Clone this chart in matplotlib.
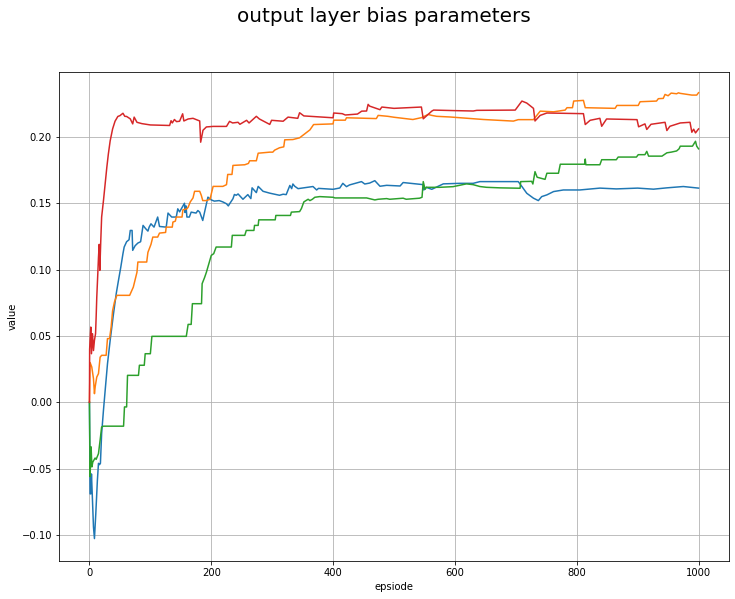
import numpy as np
import matplotlib.pyplot as plt

# episode / value pairs
ep_blue = [0, 1, 2.2, 3.3, 4.4, 6.6, 8.2, 10.4, 13, 14.8, 16.5, 18, 20, 23, 25.8, 29.6,
           34, 39.5, 44, 47.7, 51.5, 55, 57, 61, 65, 67, 70, 71, 75, 79.5, 84, 88,
           92, 96, 98, 101, 106, 112, 115, 126, 129, 135, 142.5, 145, 148, 156, 157,
           158.5, 160, 164, 167, 175, 178, 181, 186, 189, 194.5, 200, 205, 213, 219,
           225, 228, 230, 235.6, 238, 241, 244, 252, 260, 265, 267, 274, 277, 285,
           296, 312, 318, 323, 329, 332, 334, 337, 342.5, 367, 373, 376, 400, 411,
           416, 422, 427, 446.6, 452, 460, 468.5, 477, 488, 510, 515, 542, 548, 549,
           553, 562, 581, 608, 630, 641, 674, 704, 710, 718, 729, 737, 742.5, 751,
           762, 778, 805, 838, 865, 900, 926, 948, 975, 1000]
val_blue = [0.0, -0.069, -0.069, -0.054, -0.067, -0.094, -0.1027, -0.084, -0.059, -0.046,
            -0.047, -0.046, -0.0236, -0.006, 0.009, 0.029,
            0.0467, 0.0668, 0.082, 0.092, 0.102, 0.112, 0.117, 0.121, 0.1225, 0.1295, 0.1295, 0.1145, 0.118, 0.12, 0.121, 0.1333,
            0.131, 0.129, 0.132, 0.1345, 0.132, 0.1396, 0.1325, 0.132, 0.1426, 0.1396, 0.1396, 0.1458, 0.1435, 0.150, 0.143,
            0.148, 0.1396, 0.1396, 0.1433, 0.1426, 0.1445, 0.1433, 0.137, 0.1433, 0.1546, 0.1525, 0.1516, 0.152, 0.151,
            0.1496, 0.148, 0.1495, 0.1534, 0.1566, 0.156, 0.157, 0.153, 0.1565, 0.1535, 0.1616, 0.158, 0.1627, 0.159,
            0.1576, 0.156, 0.1568, 0.1565, 0.1634, 0.161, 0.1645, 0.1628, 0.161, 0.1626, 0.160, 0.1612, 0.1605, 0.1615,
            0.165, 0.1625, 0.1638, 0.1663, 0.1645, 0.1652, 0.167, 0.1628, 0.1635, 0.163, 0.1656, 0.1643, 0.164, 0.160,
            0.162, 0.1605, 0.1646, 0.165, 0.165, 0.1663, 0.1663, 0.1663, 0.1626, 0.1575, 0.1538, 0.152, 0.155, 0.1563,
            0.1588, 0.160, 0.160, 0.1614, 0.1608, 0.1614, 0.1606, 0.1616, 0.1626, 0.1614]

ep_orange = [0, 1, 3.8, 6.6, 8.2, 9.5, 12, 14.8, 17.5, 20, 27.4, 29.6, 33, 35.6, 38, 41,
             45, 52, 66, 72, 78, 79.5, 94, 96, 101, 104, 112, 115, 125, 126, 136, 137,
             141, 142.5, 152, 153.4, 160, 162, 165.5, 170, 172.6, 181, 183.6, 186, 192,
             198, 200, 203, 219, 225, 227, 234, 235.6, 255, 261, 263, 274, 277, 296,
             301, 304, 312, 319, 320.6, 334, 345, 353.5, 362, 368, 400, 401, 420, 422,
             471, 474, 490, 500, 531, 545, 556, 562, 570, 592, 647, 696, 704, 729, 740,
             762, 781, 784, 793, 795, 811, 814, 863, 866, 901, 904, 931, 934, 942, 945,
             950, 955, 964, 967, 970, 989, 997, 1000]
val_orange = [0.0, 0.03, 0.0266, 0.0178, 0.0065, 0.012, 0.019, 0.0216, 0.034, 0.0354, 0.0354, 0.048, 0.048, 0.0567, 0.069, 0.0755,
              0.0806, 0.0806, 0.0806, 0.0868, 0.098, 0.1057, 0.1057, 0.113, 0.119, 0.1245, 0.1245, 0.1275, 0.128, 0.132, 0.132, 0.1358,
              0.1365, 0.1396, 0.1396, 0.145, 0.1458, 0.147, 0.151, 0.154, 0.159, 0.159, 0.156, 0.152, 0.152,
              0.153, 0.157, 0.1627, 0.1627, 0.164, 0.1717, 0.1717, 0.1785, 0.179, 0.18, 0.182, 0.182, 0.1877, 0.1885,
              0.1885, 0.190, 0.1918, 0.1925, 0.1978, 0.198, 0.1993, 0.2023, 0.2053, 0.2093, 0.2098, 0.2126, 0.2126, 0.2144,
              0.2138, 0.2162, 0.2155, 0.2148, 0.2131, 0.2145, 0.2169, 0.2162, 0.2155, 0.215, 0.2131, 0.2119, 0.213, 0.213, 0.2194,
              0.2189, 0.2202, 0.222, 0.222, 0.227, 0.2275, 0.222, 0.2215, 0.2237, 0.2237, 0.2265, 0.227, 0.2288, 0.229, 0.232,
              0.231, 0.233, 0.2325, 0.2332, 0.2328, 0.2315, 0.2315, 0.2333]

ep_green = [0, 1, 2.7, 4, 5.5, 9.3, 11, 14.8, 17.5, 20, 23, 56, 57.5, 61, 62.5, 80.5,
            82, 90, 91.5, 100, 102.5, 159, 162, 167, 169, 184, 185, 189, 192, 194.5,
            200, 204, 208, 233, 234.5, 255, 257.5, 270, 271, 277, 278, 305, 306, 330,
            331.5, 345, 348, 352, 359, 362, 366, 370, 378, 400, 403, 455, 468.5, 474,
            488, 493, 515, 520, 542, 546, 548, 551, 553, 575, 597, 619, 630, 641, 652,
            674, 707, 708, 726, 728, 731.5, 735, 748, 751, 770, 773, 813, 814, 815,
            817, 838, 841, 865, 868, 898, 901, 912, 915, 918, 940, 948, 955, 964, 968,
            970, 990, 995, 997, 1000]
val_green = [0.0, -0.056, -0.0336, -0.0487, -0.045, -0.042, -0.043, -0.0387, -0.0286, -0.0186, -0.018, -0.018, -0.0035, -0.0035, 0.0203, 0.0203,
             0.0279, 0.0279, 0.0366, 0.0366, 0.0497, 0.0497, 0.0587, 0.0587, 0.0743, 0.0743, 0.0894, 0.094, 0.098, 0.102,
             0.1107, 0.112, 0.117, 0.117, 0.1258, 0.1258, 0.1295, 0.1295, 0.1333, 0.1333, 0.1375, 0.1375, 0.1408, 0.1408,
             0.1433, 0.1437, 0.146, 0.151, 0.153, 0.152, 0.153, 0.1545, 0.155, 0.1545, 0.154, 0.154, 0.1525, 0.153,
             0.1535, 0.153, 0.1538, 0.153, 0.1538, 0.1545, 0.1663, 0.1605, 0.162, 0.162, 0.1625, 0.1646, 0.164, 0.1626, 0.162,
             0.1616, 0.1613, 0.1663, 0.1665, 0.1645, 0.1738, 0.1696, 0.168, 0.1726, 0.1726, 0.1794, 0.1794, 0.1833, 0.179,
             0.179, 0.179, 0.1828, 0.1828, 0.1848, 0.1848, 0.1866, 0.1866, 0.1891, 0.1855, 0.1855, 0.188, 0.1885, 0.1894, 0.191,
             0.193, 0.193, 0.1967, 0.193, 0.191]

ep_red = [0, 0.3, 1, 2.2, 3.3, 5, 6.6, 8.2, 10, 11, 12, 13.7, 14.8, 16, 17, 18.6,
          20, 23, 25.8, 28.5, 31, 34, 38, 42, 46.6, 50, 55, 58, 61, 67, 71, 73.4,
          78, 86, 100, 131.6, 134, 136, 139.5, 143, 148, 153, 155, 162, 170, 181,
          182.6, 186.4, 192, 203, 225, 230, 235, 244, 247, 258, 262, 274, 279, 296,
          299, 318, 326, 342, 345, 352, 400, 401, 415, 420, 440, 447, 455, 457.5,
          460, 477, 480, 500, 545, 548, 562, 565, 600, 630, 636, 699, 710, 718, 729,
          731.5, 740, 751, 811, 814, 822, 838, 841, 849, 899, 901.6, 912, 915, 922,
          945, 948, 953, 970, 986, 989, 992, 995, 1000]
val_red = [0.0, 0.04, 0.0467, 0.0567, 0.0366, 0.0517, 0.039, 0.0467, 0.0517, 0.0643, 0.079, 0.0969, 0.109, 0.119, 0.0994, 0.122,
           0.1396, 0.152, 0.1647, 0.177, 0.187, 0.197, 0.206, 0.2118, 0.2154, 0.216, 0.2178, 0.2155, 0.2154, 0.2136, 0.2098, 0.2149,
           0.211, 0.21, 0.209, 0.2086, 0.2122, 0.2105, 0.2131, 0.2115, 0.2118, 0.2174, 0.212, 0.2135, 0.214, 0.212,
           0.196, 0.205, 0.2075, 0.2079, 0.2079, 0.2117, 0.2105, 0.211, 0.2095, 0.2125, 0.2105, 0.2155, 0.2135, 0.2094,
           0.2125, 0.2118, 0.2149, 0.214, 0.2182, 0.2158, 0.2144, 0.218, 0.2175, 0.2165, 0.2172, 0.2194, 0.2195, 0.2245,
           0.2232, 0.2205, 0.2225, 0.2215, 0.2225, 0.2136, 0.2194, 0.2202, 0.2198, 0.2195, 0.220, 0.2202, 0.227, 0.2255, 0.2215,
           0.212, 0.2162, 0.218, 0.2175, 0.2093, 0.2125, 0.214, 0.208, 0.2135, 0.213, 0.2076, 0.2098, 0.2056, 0.2095,
           0.211, 0.2048, 0.208, 0.2105, 0.211, 0.2035, 0.2058, 0.203, 0.206]

fig = plt.figure(figsize=(735 / 72, 599 / 72), dpi=72)
ax = fig.add_axes([59 / 735, 1 - 561 / 599, 670 / 735, 489 / 599])

ax.plot(ep_blue, val_blue)
ax.plot(ep_orange, val_orange)
ax.plot(ep_green, val_green)
ax.plot(ep_red, val_red)

ax.set_xlim(-50, 1050)
ax.set_ylim(-0.1196, 0.2489)
ax.set_xlabel("epsiode")
ax.set_ylabel("value")
ax.grid(True)
fig.suptitle("output layer bias parameters", fontsize=20, x=384 / 735, y=1 - 7 / 599, va="top")

fig.savefig("out.png", dpi=72)
